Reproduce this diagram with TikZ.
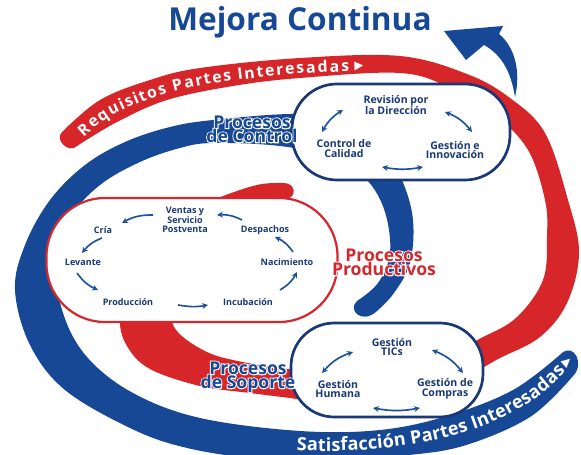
\documentclass[tikz,border=0pt]{standalone}
\usepackage{fontspec}
\setmainfont{Open Sans}
\newfontfamily\symfont{DejaVu Sans}
\newfontfamily\halofont{Open Sans}[UprightFeatures={FakeBold=12}, BoldFeatures={FakeBold=12}]
\usepackage{xcolor}
\usepackage{tikz}
\usetikzlibrary{arrows.meta, positioning, decorations.text}
\definecolor{bandblue}{RGB}{22,72,150}
\definecolor{bandred}{RGB}{214,38,42}
\definecolor{navy}{RGB}{26,56,118}
\definecolor{arrowblue}{RGB}{28,82,156}
\definecolor{prodred}{RGB}{212,40,46}
\newcommand\halotxt[1]{\rlap{\textcolor{white}{\halofont\bfseries #1}}#1}
\tikzset{
    container/.style={rectangle, draw, fill=white, line width=2.3pt},
    boxtxt/.style={font=\bfseries\fontsize{9}{8.5}\selectfont, text=navy, align=center, inner sep=1pt},
    prodtxt/.style={font=\bfseries\fontsize{7.7}{7.3}\selectfont, text=navy, align=center, inner sep=1pt},
    lbltxt/.style={font=\bfseries\fontsize{15}{12}\selectfont, align=center, inner sep=0pt},
    cycarrow/.style={-{Stealth[length=5pt,width=5pt]}, line width=1.4pt, arrowblue},
    dblarrow/.style={{Stealth[length=5pt,width=5pt]}-{Stealth[length=5pt,width=5pt]}, line width=1.4pt, arrowblue},
    tritxt/.style={text=white, font=\symfont\fontsize{10}{10}\selectfont, inner sep=0pt}
}

\begin{document}
\begin{tikzpicture}[x=0.03cm, y=-0.03cm]
    \useasboundingbox (0,0) rectangle (581,455);

    % red spiral: requisitos -> productivos
    \fill[bandred] plot[smooth, tension=0.6] coordinates {(62,132) (100,100) (150,80) (200,68) (300,58) (400,56) (467,74) (510,98) (545,133) (568,200) (579,253) (567,303) (540,337) (500,358) (460,378) (380,400) (320,402) (290,398) (250,393) (200,386) (150,369) (127,346) (120,318) (130,275) (165,228) (205,204) (237,191) (262,184) (284,183)}
        .. controls (296,183) and (298,199) .. (284,199)
        -- plot[smooth, tension=0.6] coordinates {(284,199) (255,203) (215,215) (185,250) (172,300) (172,322) (183,337) (207,352) (233,360) (280,368) (330,370) (440,355) (483,337) (517,317) (543,280) (547,237) (545,200) (528,150) (495,115) (450,88) (400,73) (300,78) (233,86) (167,100) (117,122) (77,146)}
        .. controls (69,154) and (54,140) .. (62,132) -- cycle;

    % blue spiral: satisfaccion -> control
    \fill[bandblue] plot[smooth, tension=0.6] coordinates {(562,353) (513,390) (447,416) (380,430) (300,431) (200,418) (133,393) (87,357) (63,313) (56,262) (70,218) (100,185) (140,162) (180,148) (213,143) (280,146) (335,158) (367,180) (385,212) (390,253) (378,283) (357,301)}
        .. controls (347,310) and (362,325) .. (377,311)
        -- plot[smooth, tension=0.6] coordinates {(377,311) (394,293) (410,263) (413,220) (402,180) (380,140) (340,118) (290,114) (213,120) (170,127) (125,142) (85,165) (50,200) (25,245) (15,290) (30,345) (65,390) (130,428) (183,447) (250,458) (330,462) (400,456) (463,446) (530,417) (573,376)}
        .. controls (585,364) and (574,343) .. (562,353) -- cycle;

    % arrow to the title
    \fill[bandblue] (515,97) .. controls (521,72) and (515,47) .. (499,34) -- (503,26) -- (444,31) -- (466,60) -- (484,45) .. controls (502,55) and (511,72) .. (515,97) -- cycle;

    % texts on the bands
    \path[decorate, decoration={text effects along path,
        text={Requisitos Partes Interesadas}, raise=-4.8pt,
        text effects/.cd, fit text to path,
        characters={text along path, text=white, font=\bfseries\fontsize{13.5}{13.5}\selectfont}}]
        plot[smooth] coordinates {(80,133) (108,111) (158,90) (216,77) (300,68) (349,66)};
    \node[tritxt, rotate=3] (reqtri) at (359,66) {▶};
    \path[decorate, decoration={text along path, raise=-5.5pt,
        text={|\bfseries\color{white}\fontsize{15.5}{15.5}\selectfont|Satisfacción Partes Interesadas}}]
        (297,444) .. controls (400,449) and (505,428) .. (558,370);
    \node[tritxt, rotate=42] (sattri) at (567,362) {▶};

    % title
    \node[font=\bfseries\fontsize{27}{27}\selectfont, text=bandblue] (title) at (300,22) {Mejora Continua};

    % process containers
    \node[container, draw=navy, minimum width=6.54cm, minimum height=2.88cm, rounded corners=1.35cm] (ctrlbox) at (401,132) {};
    \node[container, draw=prodred, line width=1.9pt, minimum width=8.73cm, minimum height=3.72cm, rounded corners=1.75cm] (prodbox) at (192,260) {};
    \node[container, draw=navy, minimum width=5.76cm, minimum height=2.82cm, rounded corners=1.3cm] (sopbox) at (387,370) {};

    % labels
    \node[lbltxt, text=bandblue] (ctrllbl) at (252,129) {\halotxt{Procesos}\\\halotxt{de Control}};
    \node[lbltxt, text=prodred] (prodlbl) at (384,262) {\halotxt{Procesos}\\\halotxt{Productivos}};
    \node[lbltxt, text=bandblue] (soplbl) at (248,377) {\halotxt{Procesos}\\\halotxt{de Soporte}};

    % control
    \node[boxtxt] (revision) at (396,105) {Revisión por\\la Dirección};
    \node[boxtxt] (calidad) at (344,149) {Control de\\Calidad};
    \node[boxtxt] (innovacion) at (455,150) {Gestión e\\Innovación};
    \draw[dblarrow] ([shift={(-22,-17)}]calidad.center) to[bend left=15] ([shift={(-53,5)}]revision.center);
    \draw[dblarrow] ([shift={(49,7)}]revision.center) to[bend left=15] ([shift={(17,-18)}]innovacion.center);
    \draw[dblarrow] ([shift={(38,18)}]calidad.center) to[bend right=10] ([shift={(-32,17)}]innovacion.center);

    % productivos
    \node[prodtxt] (ventas) at (185,220) {Ventas y\\Servicio\\Postventa};
    \node[prodtxt] (cria) at (103,230) {Cría};
    \node[prodtxt] (despachos) at (265,230) {Despachos};
    \node[prodtxt] (levante) at (83,262) {Levante};
    \node[prodtxt] (nacimiento) at (287,262) {Nacimiento};
    \node[prodtxt] (produccion) at (128,302) {Producción};
    \node[prodtxt] (incubacion) at (248,302) {Incubación};
    \draw[cycarrow] ([shift={(-32,-5)}]ventas.center) to[bend right=15] ([shift={(19,-7)}]cria.center);
    \draw[cycarrow] ([shift={(-23,-10)}]despachos.center) to[bend right=15] ([shift={(32,-5)}]ventas.center);
    \draw[cycarrow] ([shift={(-1,8)}]cria.center) to[bend right=15] ([shift={(-1,-9)}]levante.center);
    \draw[cycarrow] ([shift={(-6,11)}]levante.center) to[bend right=15] ([shift={(-30,-12)}]produccion.center);
    \draw[cycarrow] ([shift={(50,3)}]produccion.center) to[bend right=10] ([shift={(-40,3)}]incubacion.center);
    \draw[cycarrow] ([shift={(32,-12)}]incubacion.center) to[bend right=15] ([shift={(10,10)}]nacimiento.center);
    \draw[cycarrow] ([shift={(6,-10)}]nacimiento.center) to[bend right=15] ([shift={(10,7)}]despachos.center);

    % soporte
    \node[boxtxt] (tics) at (392,347) {Gestión\\TICs};
    \node[boxtxt] (humana) at (338,389) {Gestión\\Humana};
    \node[boxtxt] (compras) at (445,389) {Gestión de\\Compras};
    \draw[dblarrow] ([shift={(-16,-16)}]humana.center) to[bend left=15] ([shift={(-39,5)}]tics.center);
    \draw[dblarrow] ([shift={(40,3)}]tics.center) to[bend left=15] ([shift={(18,-16)}]compras.center);
    \draw[dblarrow] ([shift={(35,19)}]humana.center) to[bend right=10] ([shift={(-25,19)}]compras.center);
\end{tikzpicture}
\end{document}
